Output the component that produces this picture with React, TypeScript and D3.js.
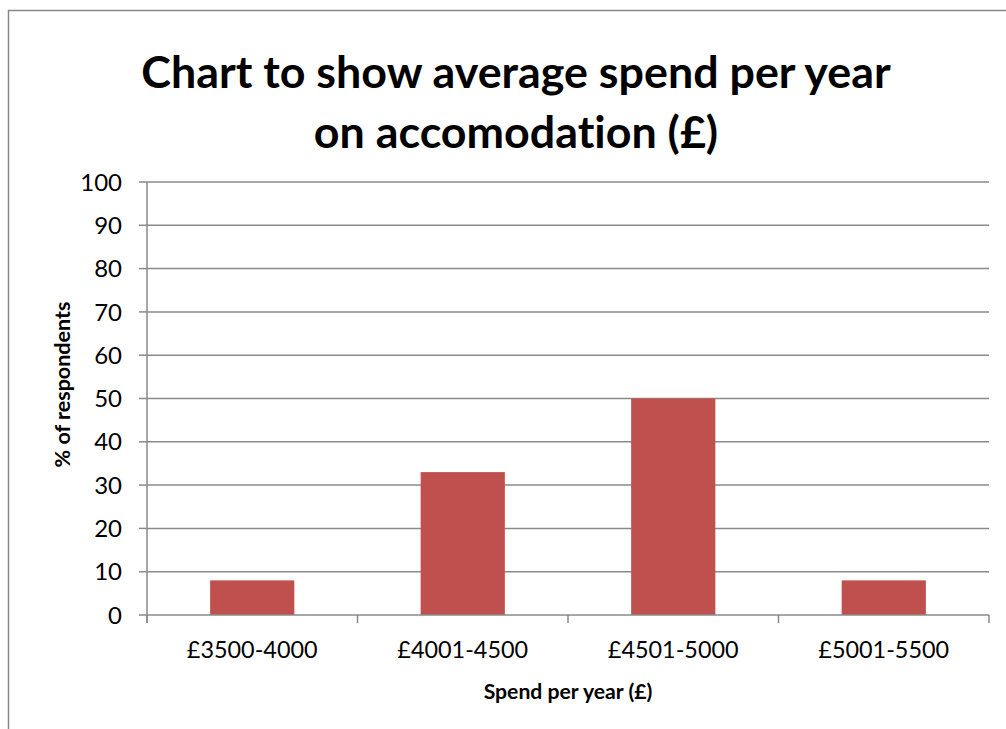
import React from "react";
import * as d3 from "d3";

const categories = ["£3500-4000", "£4001-4500", "£4501-5000", "£5001-5500"];
const values = [8, 33, 50, 8];
const yTicks = [0, 10, 20, 30, 40, 50, 60, 70, 80, 90, 100];
const titleLines = ["Chart to show average spend per year", "on accomodation (£)"];
const xTitle = "Spend per year (£)";
const yTitle = "% of respondents";

const W = 1006;
const H = 729;
const plot = { left: 147, right: 989, top: 182, bottom: 615 };
const FONT = "Lato, 'Open Sans', sans-serif";
const GRID = "#8a8a8a";
const BAR = "#C0504D";

export default function App() {
  const x = d3
    .scaleBand<string>()
    .domain(categories)
    .range([plot.left, plot.right])
    .paddingInner(0.6)
    .paddingOuter(0.3);
  const xOuter = d3.scaleBand<string>().domain(categories).range([plot.left, plot.right]);
  const y = d3.scaleLinear().domain([0, 100]).range([plot.bottom, plot.top]);
  const boundaries = [...categories.map((c) => xOuter(c)!), plot.right];
  const cx = (plot.left + plot.right) / 2;

  return (
    <svg
      width={W}
      height={H}
      style={{ position: "absolute", left: 0, top: 0, display: "block", background: "#fff", fontVariantLigatures: "none" }}
      fontFamily={FONT}
    >
      <rect x={8.5} y={10.5} width={1010} height={740} fill="#fff" stroke="#888" strokeWidth={1.5} />
      {titleLines.map((t, i) => (
        <text
          key={t}
          x={516}
          y={88 + i * 60}
          textAnchor="middle"
          fontSize={44.8}
          fontWeight={700}
          fill="#000"
        >
          {t}
        </text>
      ))}
      {yTicks.map((t) => (
        <g key={t}>
          {t > 0 && (
            <line x1={plot.left} x2={plot.right} y1={y(t)} y2={y(t)} stroke={GRID} strokeWidth={1.5} />
          )}
          <line x1={plot.left - 8} x2={plot.left} y1={y(t)} y2={y(t)} stroke={GRID} strokeWidth={1.5} />
          <text x={plot.left - 25} y={y(t)} dy="0.36em" textAnchor="end" fontSize={24} fill="#000">
            {t}
          </text>
        </g>
      ))}
      {categories.map((c, i) => (
        <rect key={c} x={x(c)} y={y(values[i])} width={x.bandwidth()} height={y(0) - y(values[i])} fill={BAR} />
      ))}
      <line x1={plot.left} x2={plot.left} y1={plot.top} y2={plot.bottom + 8} stroke={GRID} strokeWidth={1.5} />
      <line x1={plot.left} x2={plot.right} y1={plot.bottom} y2={plot.bottom} stroke={GRID} strokeWidth={1.5} />
      {boundaries.map((b, i) => (
        <line key={i} x1={b} x2={b} y1={plot.bottom} y2={plot.bottom + 8} stroke={GRID} strokeWidth={1.5} />
      ))}
      {categories.map((c) => (
        <text key={c} x={xOuter(c)! + xOuter.bandwidth() / 2} y={658} textAnchor="middle" fontSize={23.4} fill="#000">
          {c}
        </text>
      ))}
      <text x={cx} y={699} textAnchor="middle" fontSize={21.2} fontWeight={700} fill="#000">
        {xTitle}
      </text>
      <text
        transform={`translate(70, ${(plot.top + plot.bottom) / 2 - 14}) rotate(-90)`}
        textAnchor="middle"
        fontSize={21.5}
        fontWeight={700}
        fill="#000"
      >
        {yTitle}
      </text>
    </svg>
  );
}
